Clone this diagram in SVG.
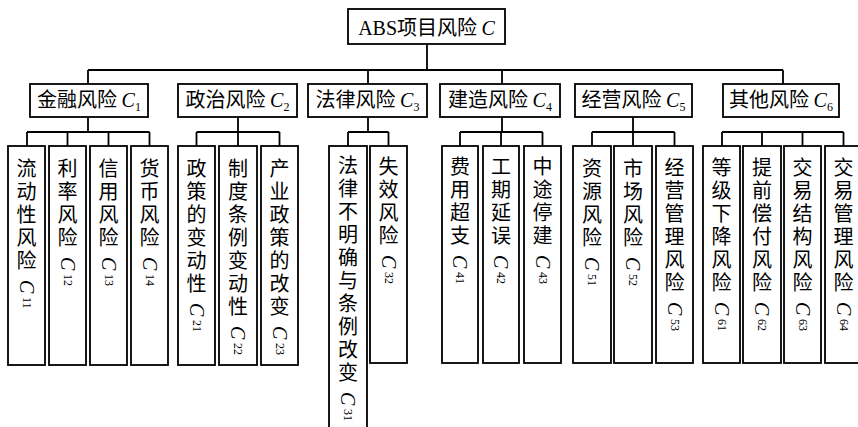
<svg xmlns="http://www.w3.org/2000/svg" width="858" height="427" viewBox="0 0 858 427">
<style>
.box{fill:#fff;stroke:#000;stroke-width:1.8}
.ln{fill:none;stroke:#000;stroke-width:1.8}
.t{font-family:"Noto Sans CJK SC","Liberation Serif",sans-serif;font-size:20px;fill:#000}
.lat{font-family:"Liberation Serif",serif}
.ci{font-family:"Liberation Serif",serif;font-style:italic}
.sub{font-family:"Liberation Serif",serif;font-size:12px;letter-spacing:0}
.v{writing-mode:vertical-rl;letter-spacing:3px}
</style>
<rect width="858" height="427" fill="#fff"/>
<g id="connectors">
<path class="ln" d="M427 44V70M88 70H783M88 70V84M368 70V84M502 70V84M783 70V84"/>
<path class="ln" d="M88 117V132M27 132H149.5M27 132V146M67.5 132V146M108.5 132V146M149.5 132V146"/>
<path class="ln" d="M238 117V132M196.5 132H279.5M196.5 132V146M238 132V146M279.5 132V146"/>
<path class="ln" d="M368 117V132M348 132H388.5M348 132V146M388.5 132V146"/>
<path class="ln" d="M502 117V132M460 132H542.5M460 132V146M501 132V146M542.5 132V146"/>
<path class="ln" d="M633 117V132M592 132H674.5M592 132V146M633 132V146M674.5 132V146"/>
<path class="ln" d="M722 132H843.5M722 132V146M762 132V146M802.5 132V146M843.5 132V146"/>
</g>
<g id="C"><rect class="box" x="348" y="9" width="157" height="35"/><text class="t" x="426.5" y="35" text-anchor="middle"><tspan class="lat">ABS</tspan>项目风险 <tspan class="ci">C</tspan></text></g>
<g id="C1"><rect class="box" x="30" y="84" width="118" height="33"/><text class="t" x="89" y="107" text-anchor="middle">金融风险 <tspan class="ci">C</tspan><tspan class="sub" dy="4">1</tspan></text></g>
<g id="C2"><rect class="box" x="178" y="84" width="119" height="33"/><text class="t" x="237.5" y="107" text-anchor="middle">政治风险 <tspan class="ci">C</tspan><tspan class="sub" dy="4">2</tspan></text></g>
<g id="C3"><rect class="box" x="308" y="84" width="119" height="33"/><text class="t" x="367.5" y="107" text-anchor="middle">法律风险 <tspan class="ci">C</tspan><tspan class="sub" dy="4">3</tspan></text></g>
<g id="C4"><rect class="box" x="440" y="84" width="120" height="33"/><text class="t" x="500" y="107" text-anchor="middle">建造风险 <tspan class="ci">C</tspan><tspan class="sub" dy="4">4</tspan></text></g>
<g id="C5"><rect class="box" x="575" y="84" width="117" height="33"/><text class="t" x="633.5" y="107" text-anchor="middle">经营风险 <tspan class="ci">C</tspan><tspan class="sub" dy="4">5</tspan></text></g>
<g id="C6"><rect class="box" x="723" y="84" width="116" height="33"/><text class="t" x="781" y="107" text-anchor="middle">其他风险 <tspan class="ci">C</tspan><tspan class="sub" dy="4">6</tspan></text></g>

<g id="C11"><rect class="box" x="8" y="146" width="37" height="219"/><text class="t v" x="26.5" y="158">流动性风险 <tspan class="ci">C</tspan><tspan class="sub">11</tspan></text></g>
<g id="C12"><rect class="box" x="49" y="146" width="37" height="219"/><text class="t v" x="67.5" y="158">利率风险 <tspan class="ci">C</tspan><tspan class="sub">12</tspan></text></g>
<g id="C13"><rect class="box" x="90" y="146" width="37" height="219"/><text class="t v" x="108.5" y="158">信用风险 <tspan class="ci">C</tspan><tspan class="sub">13</tspan></text></g>
<g id="C14"><rect class="box" x="131" y="146" width="37" height="219"/><text class="t v" x="149.5" y="158">货币风险 <tspan class="ci">C</tspan><tspan class="sub">14</tspan></text></g>
<g id="C21"><rect class="box" x="178" y="146" width="37" height="219"/><text class="t v" x="196.5" y="158">政策的变动性 <tspan class="ci">C</tspan><tspan class="sub">21</tspan></text></g>
<g id="C22"><rect class="box" x="219" y="146" width="38" height="219"/><text class="t v" x="238" y="158">制度条例变动性 <tspan class="ci">C</tspan><tspan class="sub">22</tspan></text></g>
<g id="C23"><rect class="box" x="261" y="146" width="37" height="219"/><text class="t v" x="279.5" y="158">产业政策的改变 <tspan class="ci">C</tspan><tspan class="sub">23</tspan></text></g>
<g id="C31"><rect class="box" x="329" y="146" width="38" height="290"/><text class="t v" x="348" y="155">法律不明确与条例改变 <tspan class="ci">C</tspan><tspan class="sub">31</tspan></text></g>
<g id="C32"><rect class="box" x="370" y="146" width="37" height="217"/><text class="t v" x="388.5" y="156">失效风险 <tspan class="ci">C</tspan><tspan class="sub">32</tspan></text></g>
<g id="C41"><rect class="box" x="442" y="146" width="36" height="217"/><text class="t v" x="460" y="156">费用超支 <tspan class="ci">C</tspan><tspan class="sub">41</tspan></text></g>
<g id="C42"><rect class="box" x="483" y="146" width="36" height="217"/><text class="t v" x="501" y="156">工期延误 <tspan class="ci">C</tspan><tspan class="sub">42</tspan></text></g>
<g id="C43"><rect class="box" x="524" y="146" width="37" height="217"/><text class="t v" x="542.5" y="156">中途停建 <tspan class="ci">C</tspan><tspan class="sub">43</tspan></text></g>
<g id="C51"><rect class="box" x="573" y="146" width="38" height="217"/><text class="t v" x="592" y="158">资源风险 <tspan class="ci">C</tspan><tspan class="sub">51</tspan></text></g>
<g id="C52"><rect class="box" x="614" y="146" width="38" height="217"/><text class="t v" x="633" y="158">市场风险 <tspan class="ci">C</tspan><tspan class="sub">52</tspan></text></g>
<g id="C53"><rect class="box" x="656" y="146" width="37" height="217"/><text class="t v" x="674.5" y="157">经营管理风险 <tspan class="ci">C</tspan><tspan class="sub">53</tspan></text></g>
<g id="C61"><rect class="box" x="703" y="146" width="37" height="217"/><text class="t v" x="721.5" y="157">等级下降风险 <tspan class="ci">C</tspan><tspan class="sub">61</tspan></text></g>
<g id="C62"><rect class="box" x="743" y="146" width="38" height="217"/><text class="t v" x="762" y="157">提前偿付风险 <tspan class="ci">C</tspan><tspan class="sub">62</tspan></text></g>
<g id="C63"><rect class="box" x="784" y="146" width="37" height="217"/><text class="t v" x="802.5" y="157">交易结构风险 <tspan class="ci">C</tspan><tspan class="sub">63</tspan></text></g>
<g id="C64"><rect class="box" x="825" y="146" width="37" height="217"/><text class="t v" x="843.5" y="157">交易管理风险 <tspan class="ci">C</tspan><tspan class="sub">64</tspan></text></g>
</svg>
